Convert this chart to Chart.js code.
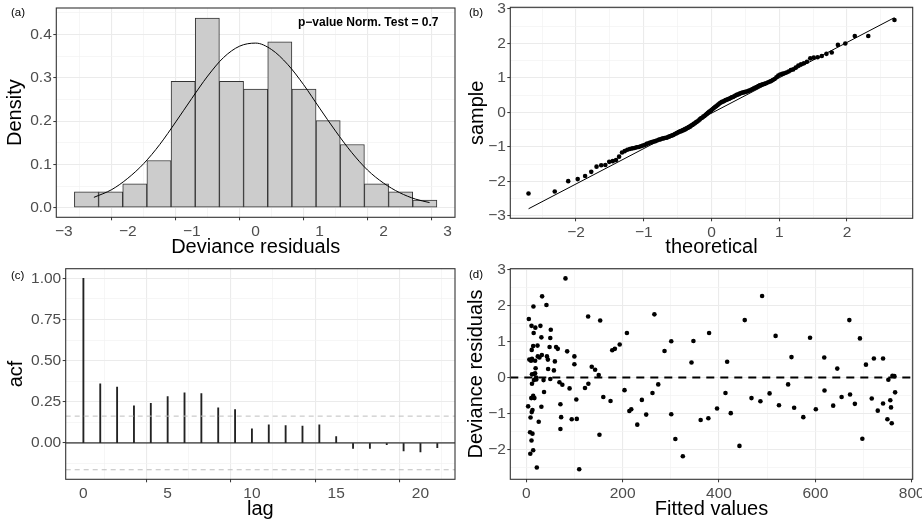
<!DOCTYPE html>
<html>
<head>
<meta charset="utf-8">
<script src="https://cdn.jsdelivr.net/npm/chart.js@4.4.1/dist/chart.umd.min.js"></script>
<style>
  body { margin: 0; background: #fff; width: 922px; height: 524px; overflow: hidden; position: relative;
         font-family: "Liberation Sans", Arial, sans-serif; }
  canvas { position: absolute; }
  .tag { position: absolute; font-size: 11.5px; line-height: 1; color: #000; }
  #pval { position: absolute; left: 298px; top: 16px; font-size: 12px; font-weight: bold; line-height: 1; color: #000; white-space: nowrap; }
</style>
</head>
<body>
<canvas id="histChart" width="461" height="262" style="left:0;top:0"></canvas>
<canvas id="qqChart" width="461" height="262" style="left:461px;top:0"></canvas>
<canvas id="acfChart" width="461" height="262" style="left:0;top:262px"></canvas>
<canvas id="residChart" width="461" height="262" style="left:461px;top:262px"></canvas>
<div class="tag" style="left:11px;top:7px">(a)</div>
<div class="tag" style="left:469px;top:7px">(b)</div>
<div class="tag" style="left:11px;top:270px">(c)</div>
<div class="tag" style="left:469px;top:269px">(d)</div>
<div id="pval">p−value Norm. Test = 0.7</div>
<script>
var FONT = '"Liberation Sans", Arial, sans-serif';
Chart.defaults.font.family = FONT;

// (a) histogram of deviance residuals
var histBinMid = [-2.646, -2.268, -1.890, -1.512, -1.134, -0.756, -0.378, 0, 0.378, 0.756, 1.134, 1.512, 1.890, 2.268, 2.646];
var histDensity = [0.037, 0.037, 0.055, 0.109, 0.292, 0.438, 0.292, 0.274, 0.383, 0.274, 0.201, 0.146, 0.055, 0.037, 0.018];
var densX = [-2.53, -2.25, -2.0, -1.75, -1.5, -1.25, -1.0, -0.75, -0.5, -0.25, 0, 0.25, 0.5, 0.75, 1.0, 1.25, 1.5, 1.75, 2.0, 2.25, 2.5, 2.72];
var densY = [0.024, 0.042, 0.068, 0.102, 0.146, 0.198, 0.252, 0.304, 0.347, 0.373, 0.380, 0.365, 0.331, 0.284, 0.230, 0.177, 0.128, 0.087, 0.057, 0.035, 0.020, 0.012];

// (b) normal QQ plot
var qqTheoretical = [
  -2.701,-2.314,-2.115,-1.975,-1.866,-1.775,-1.697,-1.628,-1.567,-1.510,
  -1.458,-1.409,-1.364,-1.321,-1.282,-1.243,-1.206,-1.171,-1.138,-1.106,
  -1.074,-1.044,-1.014,-0.986,-0.958,-0.931,-0.905,-0.879,-0.854,-0.829,
  -0.805,-0.781,-0.758,-0.735,-0.713,-0.691,-0.669,-0.648,-0.627,-0.606,
  -0.585,-0.565,-0.545,-0.524,-0.505,-0.485,-0.466,-0.447,-0.428,-0.409,
  -0.390,-0.372,-0.353,-0.335,-0.317,-0.298,-0.280,-0.263,-0.245,-0.227,
  -0.209,-0.191,-0.174,-0.156,-0.139,-0.121,-0.104,-0.087,-0.069,-0.052,
  -0.035,-0.017,0,
  0.017,0.035,0.052,0.069,0.087,0.104,0.121,0.139,0.156,0.174,
  0.191,0.209,0.227,0.245,0.263,0.280,0.298,0.317,0.335,0.353,
  0.372,0.390,0.409,0.428,0.447,0.466,0.485,0.505,0.524,0.545,
  0.565,0.585,0.606,0.627,0.648,0.669,0.691,0.713,0.735,0.758,
  0.781,0.805,0.829,0.854,0.879,0.905,0.931,0.958,0.986,1.014,
  1.044,1.074,1.106,1.138,1.171,1.206,1.243,1.282,1.321,1.364,
  1.409,1.458,1.510,1.567,1.628,1.697,1.775,1.866,1.975,2.115,
  2.314,2.701
];
var qqSample = [
  -2.35,-2.29,-1.99,-1.93,-1.84,-1.72,-1.57,-1.53,-1.52,-1.43,
  -1.41,-1.38,-1.28,-1.16,-1.12,-1.08,-1.06,-1.04,-1.03,-1.01,
  -1.00,-0.98,-0.96,-0.94,-0.91,-0.89,-0.87,-0.86,-0.84,-0.83,
  -0.81,-0.79,-0.78,-0.76,-0.75,-0.74,-0.73,-0.72,-0.70,-0.68,
  -0.67,-0.65,-0.63,-0.61,-0.59,-0.57,-0.55,-0.54,-0.52,-0.51,
  -0.49,-0.47,-0.45,-0.43,-0.41,-0.38,-0.36,-0.33,-0.31,-0.28,
  -0.26,-0.23,-0.20,-0.17,-0.15,-0.12,-0.10,-0.07,-0.04,-0.01,
  0.02,0.04,0.07,
  0.10,0.13,0.16,0.18,0.21,0.24,0.27,
  0.29,0.31,0.32,0.34,0.36,0.37,0.39,0.40,0.42,0.44,
  0.45,0.47,0.49,0.51,0.52,0.54,0.56,0.57,0.58,0.59,
  0.60,0.61,0.63,0.64,0.66,0.68,0.70,0.72,0.74,0.77,
  0.79,0.80,0.82,0.83,0.85,0.87,0.89,0.91,0.94,0.97,
  1.02,1.07,1.10,1.12,1.14,1.16,1.19,1.23,1.25,1.30,
  1.36,1.40,1.43,1.47,1.57,1.59,1.60,1.64,1.70,1.74,
  1.96,2.00,2.22,2.22,2.68
];
var qqLineX = [-2.70, 2.70];
var qqLineY = [-2.79, 2.75];

// (c) autocorrelation of residuals
var acfLag = [0, 1, 2, 3, 4, 5, 6, 7, 8, 9, 10, 11, 12, 13, 14, 15, 16, 17, 18, 19, 20, 21];
var acfValue = [1.0, 0.359, 0.339, 0.225, 0.241, 0.282, 0.304, 0.300, 0.213, 0.203, 0.085, 0.110, 0.105, 0.103, 0.110, 0.039, -0.034, -0.034, -0.010, -0.049, -0.055, -0.028];
var acfBound = 0.163;

// (d) residuals vs fitted
var fittedValues = [
  4, 5.5, 6.5, 8, 8.5, 9, 10, 10.5, 11, 11, 11.5, 11.5, 12, 12, 12, 13, 13, 14.5, 14.5, 14.5,
  15, 15.5, 16, 16, 17, 18.5, 18.5, 19, 19.5, 20.5, 21, 22, 23.5, 24, 26, 27.5, 29.5, 31.5, 31.5, 32.5,
  33, 36, 37, 42, 43, 45, 45.5, 48.5, 50, 50, 51, 57.5, 59.5, 62, 65.5, 69, 71, 71, 72.5, 75,
  81.5, 85, 90, 94.5, 100, 100, 104, 105, 110, 122, 128.5, 129, 136, 143, 150.5, 152, 153.5, 160, 175, 178.5,
  184, 194, 204, 209, 214, 218, 230.5, 240, 249, 262, 266, 274, 287, 301, 301, 309.5, 325, 343, 347, 362,
  378, 379.5, 396, 413.5, 417, 424.5, 442.5, 453.5, 467.5, 486, 489.5, 505, 517.5, 524.5, 543.5, 550.5, 556, 575, 589, 601,
  618.5, 619, 637, 645.5, 654.5, 670.5, 672, 682, 692.5, 697.5, 705, 717, 721.5, 729.5, 740.5, 740.5, 749.5, 751.5, 755.5, 757,
  758.5, 760, 764, 765.5
];
var devianceResiduals = [
  -0.80, 1.63, 0.50, -1.52, -2.12, -1.11, 0.47, -0.57, 1.44, -1.75, 0.77, -0.96, 0.52, 0.09, -0.17, -0.90, -1.56, -2.02, 0.88, -0.51,
  1.98, 1.24, 0.10, -0.07, -0.57, 0.47, 0.12, 1.39, 0.26, 0.00, -0.05, -2.50, 0.89, 0.59, -1.23, 0.56, 1.44, 1.12, -0.81, 0.63,
  2.26, -0.07, -0.40, 2.02, 0.59, 0.50, 0.24, 0.85, 1.10, -0.04, 1.33, 0.20, 0.45, 0.85, 0.80, -0.13, -0.74, -1.43, -1.10, -0.20,
  2.76, 0.73, -0.30, -1.16, 0.59, 0.37, -0.61, -1.15, -2.55, -0.29, 1.70, -0.17, 0.30, 0.22, 0.07, -1.59, 1.59, -0.54, -0.65, 0.76,
  0.80, 0.92, -0.35, 1.24, -0.93, -0.88, -1.31, -0.62, -1.03, -0.43, 1.76, -0.19, 0.74, 1.01, -1.02, -1.71, -2.19, 0.42, 1.02, -1.18,
  -1.13, 1.24, -0.86, -0.43, 0.44, -0.99, -1.90, 1.60, -0.57, -0.66, 2.27, -0.44, 1.16, -0.77, -0.19, 0.57, -0.84, -1.10, 1.11, -0.88,
  0.56, -0.36, -0.78, 0.25, -0.54, 1.60, -0.47, -0.73, 1.09, -1.70, 0.36, -0.58, 0.53, -0.92, 0.53, -0.72, -1.16, -0.06, -0.63, -0.83,
  -1.27, 0.05, 0.04, -0.41
];

// ticks: labelled major positions and unlabelled minor grid positions
var aXMajor = [-3, -2, -1, 0, 1, 2, 3], aXLabels = ['−3', '−2', '−1', '0', '1', '2', '3'];
var aXMinor = [-2.5, -1.5, -0.5, 0.5, 1.5, 2.5];
var aYMajor = [0, 0.1, 0.2, 0.3, 0.4], aYLabels = ['0.0', '0.1', '0.2', '0.3', '0.4'];
var aYMinor = [0.05, 0.15, 0.25, 0.35, 0.45];
var bXMajor = [-2, -1, 0, 1, 2], bXLabels = ['−2', '−1', '0', '1', '2'];
var bXMinor = [-2.5, -1.5, -0.5, 0.5, 1.5, 2.5];
var bYMajor = [-3, -2, -1, 0, 1, 2, 3], bYLabels = ['−3', '−2', '−1', '0', '1', '2', '3'];
var bYMinor = [-2.5, -1.5, -0.5, 0.5, 1.5, 2.5];
var cXMajor = [0, 5, 10, 15, 20], cXLabels = ['0', '5', '10', '15', '20'];
var cXMinor = [2.5, 7.5, 12.5, 17.5];
var cYMajor = [0, 0.25, 0.5, 0.75, 1], cYLabels = ['0.00', '0.25', '0.50', '0.75', '1.00'];
var cYMinor = [-0.125, 0.125, 0.375, 0.625, 0.875];
var dXMajor = [0, 200, 400, 600, 800], dXLabels = ['0', '200', '400', '600', '800'];
var dXMinor = [100, 300, 500, 700];
var dYMajor = [-2, -1, 0, 1, 2, 3], dYLabels = ['−2', '−1', '0', '1', '2', '3'];
var dYMinor = [-2.5, -1.5, -0.5, 0.5, 1.5, 2.5];

function near(list, v) {
  for (var i = 0; i < list.length; ++i) {
    if (Math.abs(list[i] - v) < 1e-9) return i;
  }
  return -1;
}

function axis(o) {
  var all = o.major.concat(o.minor).sort(function(a, b) { return a - b; });
  var isMajor = function(ctx) { return ctx.tick && near(o.major, ctx.tick.value) >= 0; };
  return {
    type: 'linear',
    position: o.position,
    min: o.min,
    max: o.max,
    offset: false,
    afterBuildTicks: function(scale) {
      scale.ticks = all.map(function(v) { return {value: v}; });
    },
    afterFit: function(scale) {
      if (o.position === 'left') {
        scale.width = o.size;
        scale.paddingTop = 0;
        scale.paddingBottom = 0;
      } else {
        scale.height = o.size;
        scale.paddingLeft = 0;
        scale.paddingRight = 0;
      }
    },
    grid: {
      color: function(ctx) { return isMajor(ctx) ? '#EBEBEB' : '#F2F2F2'; },
      lineWidth: function(ctx) { return isMajor(ctx) ? 1.1 : 0.7; },
      tickColor: function(ctx) { return isMajor(ctx) ? '#333333' : 'rgba(0,0,0,0)'; },
      tickWidth: 1,
      tickLength: 3
    },
    border: {display: false},
    ticks: {
      autoSkip: false,
      maxRotation: 0,
      padding: o.position === 'left' ? 1.5 : 2,
      color: '#4D4D4D',
      font: {size: 15.5},
      callback: function(value) {
        var i = near(o.major, value);
        return i >= 0 ? o.labels[i] : '';
      }
    },
    title: {
      display: true,
      text: o.title,
      color: '#000',
      font: {size: 20, lineHeight: 1.2},
      padding: {top: o.titlePad, bottom: o.titlePad}
    }
  };
}

var panelBorder = {
  id: 'panelBorder',
  afterDraw: function(chart) {
    var a = chart.chartArea;
    var c = chart.ctx;
    c.save();
    c.strokeStyle = '#333333';
    c.lineWidth = 1.1;
    c.strokeRect(a.left, a.top, a.right - a.left, a.bottom - a.top);
    c.restore();
  }
};

var common = {
  responsive: false,
  animation: false,
  devicePixelRatio: 1,
  events: [],
  plugins: {legend: {display: false}, tooltip: {enabled: false}}
};

function opts(padding, scales) {
  return Object.assign({}, common, {layout: {padding: padding}, scales: scales});
}

// (a)
var aXMin = -3.118, aXMax = 3.118;
new Chart(document.getElementById('histChart'), {
  type: 'bar',
  data: {
    datasets: [
      {
        type: 'line',
        data: densX.map(function(x, i) { return {x: x, y: densY[i]}; }),
        borderColor: '#000',
        borderWidth: 1,
        pointRadius: 0,
        cubicInterpolationMode: 'monotone'
      },
      {
        type: 'bar',
        data: histBinMid.map(function(x, i) { return {x: x, y: histDensity[i]}; }),
        backgroundColor: '#CCCCCC',
        borderColor: '#333333',
        borderWidth: 1,
        borderSkipped: false,
        barPercentage: 1,
        categoryPercentage: 1
      }
    ]
  },
  options: opts({left: 0, right: 6, top: 8, bottom: 0}, {
    x: axis({position: 'bottom', min: aXMin, max: aXMax, major: aXMajor, minor: aXMinor, labels: aXLabels, size: 44.7, title: 'Deviance residuals', titlePad: 2.3}),
    y: axis({position: 'left', min: -0.022, max: 0.461, major: aYMajor, minor: aYMinor, labels: aYLabels, size: 56.3, title: 'Density', titlePad: 3.8})
  }),
  plugins: [panelBorder]
});

// (b)
new Chart(document.getElementById('qqChart'), {
  type: 'scatter',
  data: {
    datasets: [
      {
        data: qqTheoretical.map(function(x, i) { return {x: x, y: qqSample[i]}; }),
        backgroundColor: '#000',
        borderWidth: 0,
        pointRadius: 2.3
      },
      {
        data: qqLineX.map(function(x, i) { return {x: x, y: qqLineY[i]}; }),
        showLine: true,
        borderColor: '#000',
        borderWidth: 1,
        pointRadius: 0
      }
    ]
  },
  options: opts({left: 0, right: 9.3, top: 7.3, bottom: 0}, {
    x: axis({position: 'bottom', min: -2.97, max: 2.97, major: bXMajor, minor: bXMinor, labels: bXLabels, size: 43.7, title: 'theoretical', titlePad: 2.5}),
    y: axis({position: 'left', min: -3.067, max: 3.05, major: bYMajor, minor: bYMinor, labels: bYLabels, size: 49.3, title: 'sample', titlePad: 4.7})
  }),
  plugins: [panelBorder]
});

// (c)
var cXMin = -1.05, cXMax = 22.05;
new Chart(document.getElementById('acfChart'), {
  type: 'bar',
  data: {
    datasets: [
      {
        type: 'line',
        data: [{x: cXMin, y: acfBound}, {x: cXMax, y: acfBound}],
        borderColor: '#BEBEBE',
        borderWidth: 1,
        borderDash: [5, 4],
        pointRadius: 0
      },
      {
        type: 'line',
        data: [{x: cXMin, y: -acfBound}, {x: cXMax, y: -acfBound}],
        borderColor: '#BEBEBE',
        borderWidth: 1,
        borderDash: [5, 4],
        pointRadius: 0
      },
      {
        type: 'line',
        data: [{x: cXMin, y: 0}, {x: cXMax, y: 0}],
        borderColor: '#000',
        borderWidth: 1,
        pointRadius: 0
      },
      {
        type: 'bar',
        data: acfLag.map(function(x, i) { return {x: x, y: acfValue[i]}; }),
        backgroundColor: '#222222',
        borderWidth: 0,
        barThickness: 1.2
      }
    ]
  },
  options: opts({left: 0, right: 6, top: 6.7, bottom: 0}, {
    x: axis({position: 'bottom', min: cXMin, max: cXMax, major: cXMajor, minor: cXMinor, labels: cXLabels, size: 44.7, title: 'lag', titlePad: 2.5}),
    y: axis({position: 'left', min: -0.221, max: 1.059, major: cYMajor, minor: cYMinor, labels: cYLabels, size: 65.7, title: 'acf', titlePad: 4.7})
  }),
  plugins: [panelBorder]
});

// (d)
var dXMin = -33, dXMax = 802;
new Chart(document.getElementById('residChart'), {
  type: 'scatter',
  data: {
    datasets: [
      {
        data: fittedValues.map(function(x, i) { return {x: x, y: devianceResiduals[i]}; }),
        backgroundColor: '#000',
        borderWidth: 0,
        pointRadius: 2.3
      },
      {
        data: [{x: dXMin, y: 0}, {x: dXMax, y: 0}],
        showLine: true,
        borderColor: '#000',
        borderWidth: 2,
        borderDash: [8, 6],
        pointRadius: 0
      }
    ]
  },
  options: opts({left: 0, right: 9.3, top: 6.7, bottom: 0}, {
    x: axis({position: 'bottom', min: dXMin, max: dXMax, major: dXMajor, minor: dXMinor, labels: dXLabels, size: 44.7, title: 'Fitted values', titlePad: 2.5}),
    y: axis({position: 'left', min: -2.83, max: 3.03, major: dYMajor, minor: dYMinor, labels: dYLabels, size: 49.3, title: 'Deviance residuals', titlePad: 3})
  }),
  plugins: [panelBorder]
});
</script>
</body>
</html>
